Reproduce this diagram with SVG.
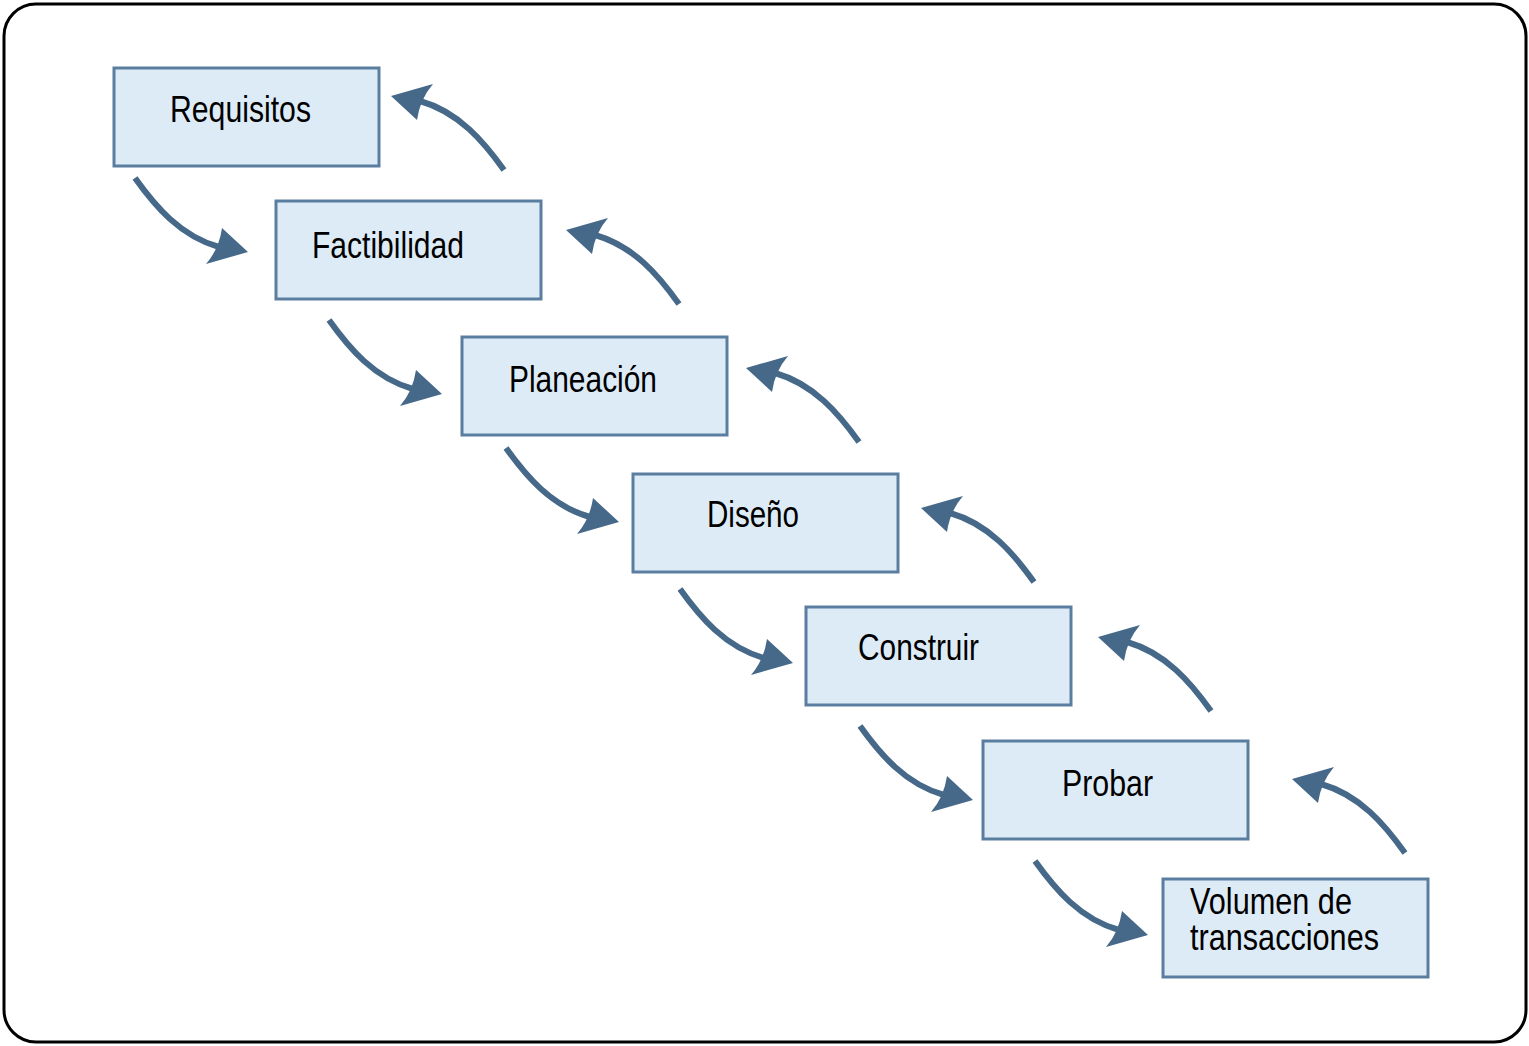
<svg xmlns="http://www.w3.org/2000/svg" xmlns:xlink="http://www.w3.org/1999/xlink" width="1529" height="1046" viewBox="0 0 1529 1046">
  <style>
    .box { fill: #ddebf7; stroke: #5a7e9f; stroke-width: 3; }
    .lbl { font-family: "Liberation Sans", Arial, sans-serif; font-size: 36px; fill: #000; }
    .shaft { fill: none; stroke: #46698a; stroke-width: 6; stroke-linecap: butt; }
    .head { fill: #46698a; }
  </style>
  <defs>
    <!-- curved arrow, start at origin, head pointing right-down -->
    <g id="arrow">
      <path class="shaft" d="M0,0 C20,28 45,58 84,69"/>
      <path class="head" d="M113,74 L87,50 Q84,71 71,86 Z"/>
    </g>
  </defs>

  <!-- frame -->
  <rect x="4" y="4" width="1522" height="1038" rx="32" ry="32" fill="#fff" stroke="#000" stroke-width="3"/>

  <g id="connectors">
    <!-- forward flow -->
    <use xlink:href="#arrow" transform="translate(135,178)"/>
    <use xlink:href="#arrow" transform="translate(329,320)"/>
    <use xlink:href="#arrow" transform="translate(506,448)"/>
    <use xlink:href="#arrow" transform="translate(680,589)"/>
    <use xlink:href="#arrow" transform="translate(860,726)"/>
    <use xlink:href="#arrow" transform="translate(1035,861)"/>
    <!-- feedback flow -->
    <use xlink:href="#arrow" transform="translate(504,170) rotate(180)"/>
    <use xlink:href="#arrow" transform="translate(679,304) rotate(180)"/>
    <use xlink:href="#arrow" transform="translate(859,442) rotate(180)"/>
    <use xlink:href="#arrow" transform="translate(1034,582) rotate(180)"/>
    <use xlink:href="#arrow" transform="translate(1211,711) rotate(180)"/>
    <use xlink:href="#arrow" transform="translate(1405,853) rotate(180)"/>
  </g>

  <g id="requisitos">
    <rect class="box" x="114" y="68" width="265" height="98"/>
    <text class="lbl" x="170" y="122" textLength="141" lengthAdjust="spacingAndGlyphs">Requisitos</text>
  </g>
  <g id="factibilidad">
    <rect class="box" x="276" y="201" width="265" height="98"/>
    <text class="lbl" x="312" y="258" textLength="152" lengthAdjust="spacingAndGlyphs">Factibilidad</text>
  </g>
  <g id="planeacion">
    <rect class="box" x="462" y="337" width="265" height="98"/>
    <text class="lbl" x="509" y="392" textLength="148" lengthAdjust="spacingAndGlyphs">Planeación</text>
  </g>
  <g id="diseno">
    <rect class="box" x="633" y="474" width="265" height="98"/>
    <text class="lbl" x="707" y="527" textLength="92" lengthAdjust="spacingAndGlyphs">Diseño</text>
  </g>
  <g id="construir">
    <rect class="box" x="806" y="607" width="265" height="98"/>
    <text class="lbl" x="858" y="660" textLength="121" lengthAdjust="spacingAndGlyphs">Construir</text>
  </g>
  <g id="probar">
    <rect class="box" x="983" y="741" width="265" height="98"/>
    <text class="lbl" x="1062" y="796" textLength="91" lengthAdjust="spacingAndGlyphs">Probar</text>
  </g>
  <g id="volumen">
    <rect class="box" x="1163" y="879" width="265" height="98"/>
    <text class="lbl" x="1190" y="914" textLength="162" lengthAdjust="spacingAndGlyphs">Volumen de</text>
    <text class="lbl" x="1190" y="950" textLength="189" lengthAdjust="spacingAndGlyphs">transacciones</text>
  </g>
</svg>
